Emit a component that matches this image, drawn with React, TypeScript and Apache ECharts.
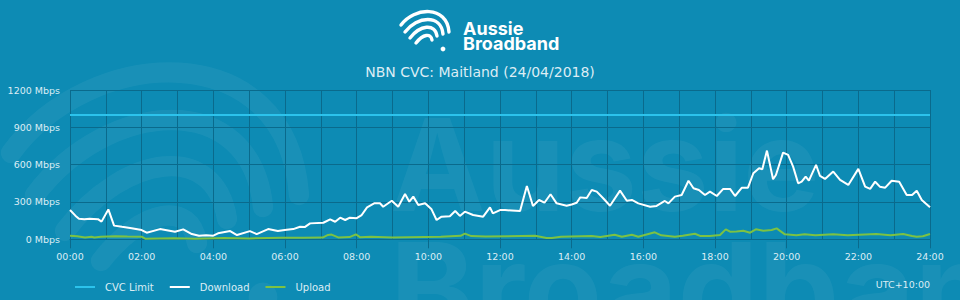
import React, { useEffect, useRef } from 'react';
import * as echarts from 'echarts';

// ---- data ----
const hourLabels = ['00:00', '02:00', '04:00', '06:00', '08:00', '10:00', '12:00', '14:00', '16:00', '18:00', '20:00', '22:00', '24:00'];
const seriesNames = ['CVC Limit', 'Download', 'Upload'];

const cvcHours = [0, 24];
const cvcValues = [1000, 1000];

const dlHours = [
  0.0, 0.15, 0.25, 0.4, 0.55, 0.78, 0.88, 1.07, 1.23, 1.45, 1.72, 2.0, 2.14, 2.51, 2.93, 3.16, 3.4, 3.6, 3.8, 4.0,
  4.13, 4.47, 4.66, 5.02, 5.21, 5.53, 5.8, 5.99, 6.23, 6.42, 6.55, 6.7, 7.07, 7.26, 7.4, 7.54, 7.68, 7.81, 8.0, 8.14,
  8.29, 8.5, 8.65, 8.74, 8.98, 9.16, 9.35, 9.47, 9.58, 9.72, 9.91, 10.09, 10.23, 10.37, 10.6, 10.75, 10.88, 11.02, 11.25, 11.53,
  11.72, 11.8, 12.0, 12.14, 12.56, 12.75, 12.92, 13.09, 13.24, 13.41, 13.58, 13.86, 14.0, 14.14, 14.24, 14.42, 14.56, 14.7, 14.88, 15.07,
  15.35, 15.54, 15.68, 15.86, 16.19, 16.37, 16.6, 16.7, 16.88, 17.07, 17.26, 17.4, 17.55, 17.72, 17.86, 18.05, 18.23, 18.42, 18.56, 18.75,
  18.92, 19.07, 19.23, 19.32, 19.45, 19.62, 19.7, 19.9, 20.04, 20.18, 20.32, 20.42, 20.53, 20.62, 20.82, 20.93, 21.07, 21.3, 21.49, 21.72,
  22.0, 22.19, 22.33, 22.47, 22.6, 22.75, 22.93, 23.14, 23.35, 23.5, 23.63, 23.77, 24.0,
];
const dlValues = [
  235, 190, 165, 162, 165, 162, 142, 240, 110, 100, 88, 74, 53, 82, 61, 80, 42, 29, 32, 29,
  48, 66, 34, 66, 42, 82, 66, 74, 82, 101, 98, 128, 133, 160, 141, 174, 155, 174, 170, 195,
  257, 290, 290, 262, 310, 262, 364, 302, 343, 276, 290, 241, 155, 182, 185, 227, 188, 222, 195, 182,
  257, 209, 235, 235, 227, 429, 268, 316, 294, 362, 289, 270, 280, 294, 337, 332, 396, 383, 330, 270,
  391, 310, 316, 289, 262, 268, 308, 289, 343, 356, 471, 410, 396, 356, 383, 348, 405, 405, 348, 415,
  415, 531, 571, 563, 713, 483, 517, 697, 678, 584, 450, 463, 504, 471, 598, 509, 485, 544, 477, 437,
  566, 423, 405, 463, 423, 415, 471, 463, 356, 356, 391, 316, 257,
];

const ulHours = [
  0.0, 0.2, 0.42, 0.6, 0.68, 0.86, 1.27, 1.6, 2.0, 2.1, 2.9, 3.5, 4.3, 5.0, 5.9, 6.5, 7.05, 7.2, 7.3, 7.5,
  7.8, 7.98, 8.1, 8.4, 9.0, 10.35, 10.9, 11.02, 11.2, 11.6, 12.98, 13.3, 13.45, 13.7, 14.56, 14.8, 15.2, 15.4, 15.68, 15.86,
  16.32, 16.5, 16.88, 17.1, 17.44, 17.6, 17.86, 18.14, 18.3, 18.42, 18.6, 18.79, 18.98, 19.14, 19.35, 19.58, 19.72, 19.95, 20.27, 20.5,
  20.8, 21.3, 21.7, 22.5, 22.9, 23.25, 23.5, 23.63, 23.8, 24.0,
];
const ulValues = [
  29, 25, 15, 21, 14, 21, 25, 22, 21, 5, 8, 4, 10, 7, 12, 12, 14, 35, 38, 14,
  18, 40, 16, 20, 14, 20, 28, 46, 26, 22, 28, 10, 10, 20, 27, 18, 37, 20, 36, 20,
  56, 32, 21, 28, 45, 26, 27, 35, 80, 61, 63, 69, 53, 80, 69, 75, 88, 40, 32, 40,
  32, 40, 32, 43, 32, 43, 27, 21, 25, 43,
];

const pairs = (xs: number[], ys: number[]) => xs.map((x, i) => [x, ys[i]]);

// logo strokes, relative to logo origin
const logoStrokes = [
  { x1: 1, y1: 15, cpx1: 14, cpy1: -3, cpx2: 47, cpy2: -5, x2: 49, y2: 22 },
  { x1: 5, y1: 22, cpx1: 17, cpy1: 6, cpx2: 41, cpy2: 4, x2: 43, y2: 24 },
  { x1: 10, y1: 28, cpx1: 20, cpy1: 15, cpx2: 35, cpy2: 13, x2: 37, y2: 26 },
  { x1: 16, y1: 33, cpx1: 23, cpy1: 24, cpx2: 31, cpy2: 23, x2: 32, y2: 30 },
];
const logoDot = { cx: 43, cy: 39, r: 2.4 };

function logoGroup(x: number, y: number, s: number, color: string, z: number) {
  return {
    type: 'group',
    x,
    y,
    scaleX: s,
    scaleY: s,
    silent: true,
    z,
    children: [
      ...logoStrokes.map((sh) => ({
        type: 'bezierCurve',
        z,
        shape: sh,
        style: { stroke: color, lineWidth: 3.4, lineCap: 'round', fill: null },
      })),
      { type: 'circle', z, shape: logoDot, style: { fill: color } },
    ],
  };
}

const BG = '#0d8bb4';
const GRID = '#0a6a8c';
const TEXT = '#dcedf4';

export default function App() {
  const ref = useRef<HTMLDivElement>(null);

  useEffect(() => {
    if (!ref.current) return;
    const chart = echarts.init(ref.current, undefined, { renderer: 'svg' });
    const wm = 'rgba(255,255,255,0.05)';
    const option: any = {
      animation: false,
      backgroundColor: BG,
      title: {
        text: 'NBN CVC: Maitland (24/04/2018)',
        left: 'center',
        top: 60,
        textStyle: { color: TEXT, fontSize: 14, fontWeight: 'normal', fontFamily: 'DejaVu Sans' },
      },
      graphic: [
        logoGroup(5, 63, 6, wm, -5),
        {
          type: 'text',
          silent: true,
          z: -5,
          style: {
            text: 'Aussie',
            x: 390,
            y: 100,
            fill: wm,
            font: 'bold 128px Inter',
            textAlign: 'left',
            textVerticalAlign: 'top',
            align: 'left',
            verticalAlign: 'top',
          },
        },
        {
          type: 'text',
          silent: true,
          z: -5,
          style: {
            text: 'Broadband',
            x: 390,
            y: 224,
            fill: wm,
            font: 'bold 128px Inter',
            textAlign: 'left',
            textVerticalAlign: 'top',
            align: 'left',
            verticalAlign: 'top',
          },
        },
        logoGroup(400, 10, 1, '#ffffff', 10),
        {
          type: 'text',
          z: 10,
          style: {
            text: 'Aussie',
            x: 463,
            y: 37,
            fill: '#ffffff',
            font: 'bold 18px Inter',
            textAlign: 'left',
            textVerticalAlign: 'bottom',
            align: 'left',
            verticalAlign: 'bottom',
          },
        },
        {
          type: 'text',
          z: 10,
          style: {
            text: 'Broadband',
            x: 463,
            y: 52,
            fill: '#ffffff',
            font: 'bold 18px Inter',
            textAlign: 'left',
            textVerticalAlign: 'bottom',
            align: 'left',
            verticalAlign: 'bottom',
          },
        },
        {
          type: 'text',
          z: 10,
          style: {
            text: 'UTC+10:00',
            x: 930,
            y: 284,
            fill: TEXT,
            font: '9.5px DejaVu Sans',
            textAlign: 'right',
            textVerticalAlign: 'middle',
            align: 'right',
            verticalAlign: 'middle',
          },
        },
      ],
      legend: {
        data: seriesNames,
        left: 70,
        top: 277,
        icon: 'rect',
        itemWidth: 20,
        itemHeight: 2,
        itemGap: 16,
        textStyle: { color: TEXT, fontSize: 10, fontFamily: 'DejaVu Sans', padding: [0, 0, 0, 5] },
      },
      grid: { left: 70, right: 30, top: 90, bottom: 60.7 },
      xAxis: {
        type: 'value',
        min: 0,
        max: 24,
        interval: 2,
        axisLine: { show: true, lineStyle: { color: GRID, width: 1 } },
        axisTick: { show: true, length: 9, lineStyle: { color: GRID } },
        axisLabel: {
          color: TEXT,
          fontSize: 9.5,
          fontFamily: 'DejaVu Sans',
          margin: 12,
          formatter: (v: number) => hourLabels[Math.round(v / 2)] ?? '',
        },
        splitLine: { show: true, lineStyle: { color: GRID, width: 1 } },
        minorTick: { show: false, splitNumber: 2 },
        minorSplitLine: { show: true, lineStyle: { color: GRID, width: 1 } },
      },
      yAxis: {
        type: 'value',
        min: 0,
        max: 1200,
        interval: 300,
        axisLine: { show: false },
        axisTick: { show: false },
        axisLabel: {
          color: TEXT,
          fontSize: 9.5,
          fontFamily: 'DejaVu Sans',
          margin: 10,
          formatter: (v: number) => `${v} Mbps`,
        },
        splitLine: { show: true, lineStyle: { color: GRID, width: 1 } },
      },
      series: [
        {
          name: seriesNames[0],
          type: 'line',
          symbol: 'none',
          data: pairs(cvcHours, cvcValues),
          lineStyle: { color: '#2cc3ec', width: 2 },
          itemStyle: { color: '#2cc3ec' },
        },
        {
          name: seriesNames[1],
          type: 'line',
          symbol: 'none',
          data: pairs(dlHours, dlValues),
          lineStyle: { color: '#ffffff', width: 2 },
          itemStyle: { color: '#ffffff' },
        },
        {
          name: seriesNames[2],
          type: 'line',
          symbol: 'none',
          data: pairs(ulHours, ulValues),
          lineStyle: { color: '#7cc243', width: 2 },
          itemStyle: { color: '#7cc243' },
        },
      ],
    };
    chart.setOption(option);
    return () => chart.dispose();
  }, []);

  return (
    <div
      ref={ref}
      style={{ position: 'fixed', left: 0, top: 0, width: 960, height: 300 }}
    />
  );
}
